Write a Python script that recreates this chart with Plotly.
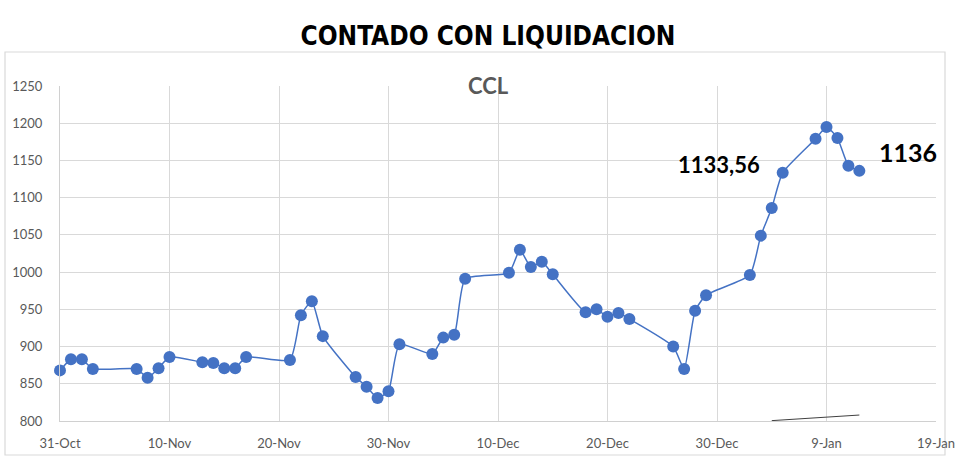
import plotly.graph_objects as go

dates = [
    "2022-10-31", "2022-11-01", "2022-11-02", "2022-11-03",
    "2022-11-07", "2022-11-08", "2022-11-09", "2022-11-10",
    "2022-11-13", "2022-11-14", "2022-11-15", "2022-11-16", "2022-11-17",
    "2022-11-21", "2022-11-22", "2022-11-23", "2022-11-24",
    "2022-11-27", "2022-11-28", "2022-11-29", "2022-11-30", "2022-12-01",
    "2022-12-04", "2022-12-05", "2022-12-06", "2022-12-07",
    "2022-12-11", "2022-12-12", "2022-12-13", "2022-12-14", "2022-12-15",
    "2022-12-18", "2022-12-19", "2022-12-20", "2022-12-21", "2022-12-22",
    "2022-12-26", "2022-12-27", "2022-12-28", "2022-12-29",
    "2023-01-02", "2023-01-03", "2023-01-04", "2023-01-05",
    "2023-01-08", "2023-01-09", "2023-01-10", "2023-01-11", "2023-01-12",
]
ccl = [
    868, 883, 883, 870,
    870, 858, 871, 886,
    879, 878, 871, 871, 886,
    882, 942, 961, 914,
    859, 846, 831, 840, 903,
    890, 912, 916, 991,
    999, 1030, 1007, 1014, 997,
    946, 950, 940, 945, 937,
    900, 870, 948, 969,
    996, 1049, 1086, 1133.56,
    1179, 1195, 1180, 1143, 1136,
]

stray_x = ["2023-01-04", "2023-01-12"]
stray_y = [800.5, 808]

label_dates = ["2022-12-30 05:00", "2023-01-16 10:00"]
label_vals = [1144, 1161]
label_texts = ["1133,56", "1136"]
label_sizes = [22, 25]

y_ticks = [800, 850, 900, 950, 1000, 1050, 1100, 1150, 1200, 1250]

fig = go.Figure()
fig.add_trace(go.Scatter(
    x=dates, y=ccl, mode="lines+markers",
    line=dict(color="#4472C4", width=1.5, shape="spline", smoothing=0.5),
    marker=dict(color="#4472C4", size=12),
    cliponaxis=False,
    showlegend=False, hoverinfo="x+y",
))
fig.add_trace(go.Scatter(
    x=stray_x, y=stray_y, mode="lines",
    line=dict(color="#404040", width=1),
    showlegend=False, hoverinfo="skip",
))

for d, v, t, s in zip(label_dates, label_vals, label_texts, label_sizes):
    fig.add_annotation(x=d, y=v, text="<b>%s</b>" % t, showarrow=False,
                       font=dict(family="Lato, Carlito, sans-serif", size=s, color="#000000"))

fig.add_annotation(xref="paper", yref="paper", x=(488 - 60) / 876, y=(421 - 85) / 335,
                   text="<b>CCL</b>", showarrow=False, xanchor="center", yanchor="middle",
                   font=dict(family="Lato, sans-serif", size=22, color="#595959"))

fig.add_shape(type="rect", xref="paper", yref="paper",
              x0=(5 - 60) / 876, x1=(945 - 60) / 876,
              y0=(421 - 455) / 335, y1=(421 - 52) / 335,
              line=dict(color="#d9d9d9", width=1.2), fillcolor="rgba(0,0,0,0)", layer="below")

fig.update_layout(
    width=980, height=467,
    margin=dict(l=60, r=44, t=86, b=46),
    paper_bgcolor="white", plot_bgcolor="white",
    title=dict(text="<b>CONTADO CON LIQUIDACION</b>", x=(488 / 980), xanchor="center",
               y=1 - 36 / 467, yanchor="middle",
               font=dict(family="DejaVu Sans Condensed, sans-serif", size=26, color="#000000")),
    xaxis=dict(
        type="date", range=["2022-10-31", "2023-01-19"],
        tick0="2022-10-31", dtick=864000000, tickformat="%-d-%b",
        showgrid=True, gridcolor="#d9d9d9", gridwidth=1,
        showline=True, linecolor="#d0d0d0", linewidth=1,
        zeroline=False, ticks="", ticklabelstandoff=10,
        tickfont=dict(family="Lato, sans-serif", size=13, color="#595959"),
    ),
    yaxis=dict(
        range=[800, 1250], tickvals=y_ticks,
        showgrid=True, gridcolor="#d9d9d9", gridwidth=1,
        showline=True, linecolor="#d0d0d0", linewidth=1,
        zeroline=False, ticks="", ticklabelstandoff=14,
        tickfont=dict(family="Lato, sans-serif", size=13, color="#595959"),
    ),
)

fig.write_html("out.html")
